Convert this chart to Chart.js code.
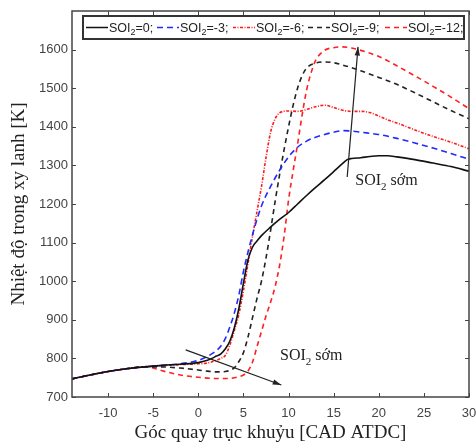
<!DOCTYPE html>
<html>
<head>
<meta charset="utf-8">
<script src="https://cdn.jsdelivr.net/npm/chart.js@4"></script>
<style>
	body { margin: 0; background: #fff; }
	#wrap { width: 476px; height: 447px; }
</style>
</head>
<body>
<div id="wrap"><canvas id="tempChart" width="476" height="447"></canvas></div>
<script>
// góc quay trục khuỷu (CAD ATDC) và nhiệt độ (K) cho từng SOI
const soiNames = ['0', '-3', '-6', '-9', '-12'];

const angle0 = [-14, -12, -10, -8, -6, -4, -2, 0, 1, 1.5, 2, 2.5, 3, 3.5, 4, 4.5, 5, 5.5, 6, 6.5, 7, 8, 9, 10, 11, 12, 13, 14, 15, 16, 16.5, 17, 18, 19, 20, 21, 22, 24, 26, 28, 30];
const temp0 = [747, 757, 766, 773, 778, 782, 785, 789, 795, 800, 806, 812, 825, 845, 880, 930, 995, 1055, 1088, 1104, 1118, 1140, 1160, 1178, 1200, 1222, 1243, 1263, 1284, 1305, 1315, 1318, 1320, 1323, 1325, 1325, 1322, 1315, 1306, 1297, 1285];

const angle3 = [-14, -12, -10, -8, -6, -4, -2, 0, 1, 2, 2.5, 3, 3.5, 4, 4.5, 5, 5.5, 6, 6.5, 7, 8, 9, 10, 11, 12, 13, 14, 15, 16, 17, 18, 20, 22, 24, 26, 28, 30];
const temp3 = [747, 757, 766, 773, 778, 782, 786, 795, 805, 820, 832, 852, 882, 918, 965, 1025, 1075, 1120, 1160, 1195, 1245, 1287, 1322, 1347, 1363, 1373, 1380, 1386, 1390, 1389, 1386, 1380, 1370, 1358, 1345, 1331, 1316];

const angle6 = [-14, -12, -10, -8, -6, -4, -2, 0, 1, 2, 2.5, 3, 3.5, 4, 4.5, 5, 5.5, 6, 6.5, 7, 7.5, 8, 8.5, 9, 10, 11, 12, 13, 14, 15, 16, 17, 18, 19, 20, 21, 22, 24, 26, 28, 30];
const temp6 = [747, 757, 766, 773, 778, 781, 784, 786, 788, 795, 800, 808, 835, 873, 915, 975, 1045, 1115, 1180, 1245, 1320, 1385, 1420, 1436, 1441, 1440, 1445, 1452, 1456, 1450, 1443, 1440, 1440, 1437, 1428, 1418, 1410, 1392, 1375, 1360, 1343];

const angle9 = [-14, -12, -10, -8, -6, -4, -2, 0, 1, 2, 3, 3.5, 4, 4.5, 5, 5.5, 6, 6.5, 7, 7.5, 8, 8.5, 9, 9.5, 10, 10.5, 11, 11.5, 12, 13, 14, 15, 16, 17, 18, 20, 22, 24, 26, 28, 30];
const temp9 = [747, 757, 766, 773, 778, 778, 775, 770, 767, 765, 766, 769, 776, 792, 815, 855, 905, 955, 1000, 1060, 1130, 1205, 1275, 1340, 1400, 1455, 1500, 1532, 1552, 1565, 1568, 1566, 1560, 1553, 1545, 1528, 1510, 1488, 1465, 1442, 1421];

const angle12 = [-14, -12, -10, -8, -6, -5, -4, -3, -2, 0, 2, 3, 4, 5, 5.5, 6, 6.5, 7, 7.5, 8, 8.5, 9, 9.5, 10, 10.5, 11, 11.5, 12, 12.5, 13, 14, 15, 16, 17, 18, 20, 22, 24, 26, 28, 30];
const temp12 = [747, 757, 766, 773, 778, 775, 768, 762, 757, 751, 748, 748, 750, 757, 767, 790, 830, 870, 910, 945, 985, 1040, 1115, 1210, 1285, 1355, 1430, 1495, 1540, 1572, 1598, 1605, 1607, 1604, 1598, 1582, 1558, 1532, 1505, 1477, 1447];

// trục
const xTicks = [-10, -5, 0, 5, 10, 15, 20, 25, 30];
const yTicks = [700, 800, 900, 1000, 1100, 1200, 1300, 1400, 1500, 1600];

function toPoints(xs, ys) {
	return xs.map((x, i) => ({ x: x, y: ys[i] }));
}

const styles = [
	{ color: '#111111', dash: [] },
	{ color: '#1f2bff', dash: [6, 4] },
	{ color: '#ff1a1a', dash: [3, 1.5, 1, 1.5] },
	{ color: '#222222', dash: [5, 4] },
	{ color: '#ff2020', dash: [5, 4] }
];
const seriesX = [angle0, angle3, angle6, angle9, angle12];
const seriesY = [temp0, temp3, temp6, temp9, temp12];

const datasets = soiNames.map((name, i) => ({
	label: 'SOI2=' + name + ';',
	soi: name,
	data: toPoints(seriesX[i], seriesY[i]),
	borderColor: styles[i].color,
	borderDash: styles[i].dash,
	borderWidth: 1.6,
	pointRadius: 0,
	cubicInterpolationMode: 'monotone',
	fill: false
}));

// chữ SOI₂ với chỉ số dưới
function drawSoi(ctx, x, y, size, font, tail) {
	ctx.font = size + 'px ' + font;
	ctx.fillText('SOI', x, y);
	let w = ctx.measureText('SOI').width;
	ctx.font = Math.round(size * 0.68) + 'px ' + font;
	ctx.fillText('2', x + w, y + size * 0.3);
	w += ctx.measureText('2').width;
	ctx.font = size + 'px ' + font;
	ctx.fillText(tail, x + w, y);
	return w + ctx.measureText(tail).width;
}

function drawArrow(ctx, x1, y1, x2, y2) {
	const a = Math.atan2(y2 - y1, x2 - x1);
	ctx.beginPath();
	ctx.moveTo(x1, y1);
	ctx.lineTo(x2, y2);
	ctx.stroke();
	ctx.beginPath();
	ctx.moveTo(x2, y2);
	ctx.lineTo(x2 - 9 * Math.cos(a - 0.3), y2 - 9 * Math.sin(a - 0.3));
	ctx.lineTo(x2 - 9 * Math.cos(a + 0.3), y2 - 9 * Math.sin(a + 0.3));
	ctx.closePath();
	ctx.fill();
}

// vị trí bắt đầu mỗi mục chú giải
const legendStarts = [86, 157, 233, 308, 385];

// khung, vạch chia hướng vào trong, chú giải và mũi tên
const framePlugin = {
	id: 'frame',
	afterDraw(chart) {
		const ctx = chart.ctx;
		const area = chart.chartArea;
		const sx = chart.scales.x;
		const sy = chart.scales.y;
		ctx.save();

		ctx.strokeStyle = '#444';
		ctx.lineWidth = 1.5;
		ctx.strokeRect(area.left, area.top, area.right - area.left, area.bottom - area.top);
		ctx.lineWidth = 1;
		ctx.beginPath();
		xTicks.forEach(v => {
			const px = Math.round(sx.getPixelForValue(v)) + 0.5;
			ctx.moveTo(px, area.bottom); ctx.lineTo(px, area.bottom - 4);
			ctx.moveTo(px, area.top); ctx.lineTo(px, area.top + 4);
		});
		yTicks.forEach(v => {
			const py = Math.round(sy.getPixelForValue(v)) + 0.5;
			ctx.moveTo(area.left, py); ctx.lineTo(area.left + 4, py);
			ctx.moveTo(area.right, py); ctx.lineTo(area.right - 4, py);
		});
		ctx.stroke();

		// chú giải
		ctx.fillStyle = '#fff';
		ctx.fillRect(83, 16, 381, 23);
		ctx.strokeStyle = '#333';
		ctx.lineWidth = 2;
		ctx.strokeRect(83, 16, 381, 23);
		const ly = 27.5;
		chart.data.datasets.forEach((ds, i) => {
			const lx = legendStarts[i];
			ctx.strokeStyle = ds.borderColor;
			ctx.lineWidth = 1.5;
			ctx.setLineDash(ds.borderDash);
			ctx.beginPath();
			ctx.moveTo(lx, ly); ctx.lineTo(lx + 22, ly);
			ctx.stroke();
			ctx.setLineDash([]);
			ctx.fillStyle = '#222';
			ctx.textBaseline = 'alphabetic';
			drawSoi(ctx, lx + 23, ly + 4, 12.5, '"Liberation Sans", Arial, sans-serif', '=' + ds.soi + ';');
		});

		// mũi tên SOI sớm
		ctx.strokeStyle = '#222';
		ctx.fillStyle = '#222';
		ctx.lineWidth = 1.2;
		drawArrow(ctx, sx.getPixelForValue(16.5), sy.getPixelForValue(1270), sx.getPixelForValue(17.7), sy.getPixelForValue(1607));
		drawArrow(ctx, sx.getPixelForValue(-1.4), sy.getPixelForValue(822), sx.getPixelForValue(9.2), sy.getPixelForValue(731));
		drawSoi(ctx, sx.getPixelForValue(17.4), sy.getPixelForValue(1249), 16, '"Liberation Serif", "Times New Roman", serif', ' sớm');
		drawSoi(ctx, sx.getPixelForValue(9.06), sy.getPixelForValue(796), 16, '"Liberation Serif", "Times New Roman", serif', ' sớm');

		ctx.restore();
	}
};

new Chart(document.getElementById('tempChart'), {
	type: 'line',
	data: { datasets: datasets },
	options: {
		responsive: false,
		animation: false,
		layout: { padding: { top: 11, right: 7, left: 0, bottom: 0 } },
		plugins: { legend: { display: false }, tooltip: { enabled: false } },
		scales: {
			x: {
				type: 'linear',
				min: -14,
				max: 30,
				grid: { display: false, drawTicks: false },
				border: { display: false },
				ticks: {
					stepSize: 5,
					includeBounds: false,
					padding: 9,
					color: '#444',
					font: { family: '"Liberation Sans", Arial, sans-serif', size: 13 }
				},
				title: {
					display: true,
					text: 'Góc quay trục khuỷu [CAD ATDC]',
					color: '#222',
					padding: { top: 4, bottom: 3 },
					font: { family: '"Liberation Serif", "Times New Roman", serif', size: 19 }
				},
				afterFit(scale) {
					scale.height = 50;
					scale.paddingLeft = 0;
					scale.paddingRight = 0;
				}
			},
			y: {
				min: 700,
				max: 1700,
				grid: { display: false, drawTicks: false },
				border: { display: false },
				ticks: {
					stepSize: 100,
					padding: 4,
					color: '#444',
					font: { family: '"Liberation Sans", Arial, sans-serif', size: 13 },
					callback: v => (yTicks.includes(v) ? v : '')
				},
				title: {
					display: true,
					text: 'Nhiệt độ trong xy lanh [K]',
					color: '#222',
					padding: { top: 8, bottom: 0 },
					font: { family: '"Liberation Serif", "Times New Roman", serif', size: 19 }
				},
				afterFit(scale) {
					scale.width = 72;
					scale.paddingTop = 0;
					scale.paddingBottom = 0;
				}
			}
		}
	},
	plugins: [framePlugin]
});
</script>
</body>
</html>
